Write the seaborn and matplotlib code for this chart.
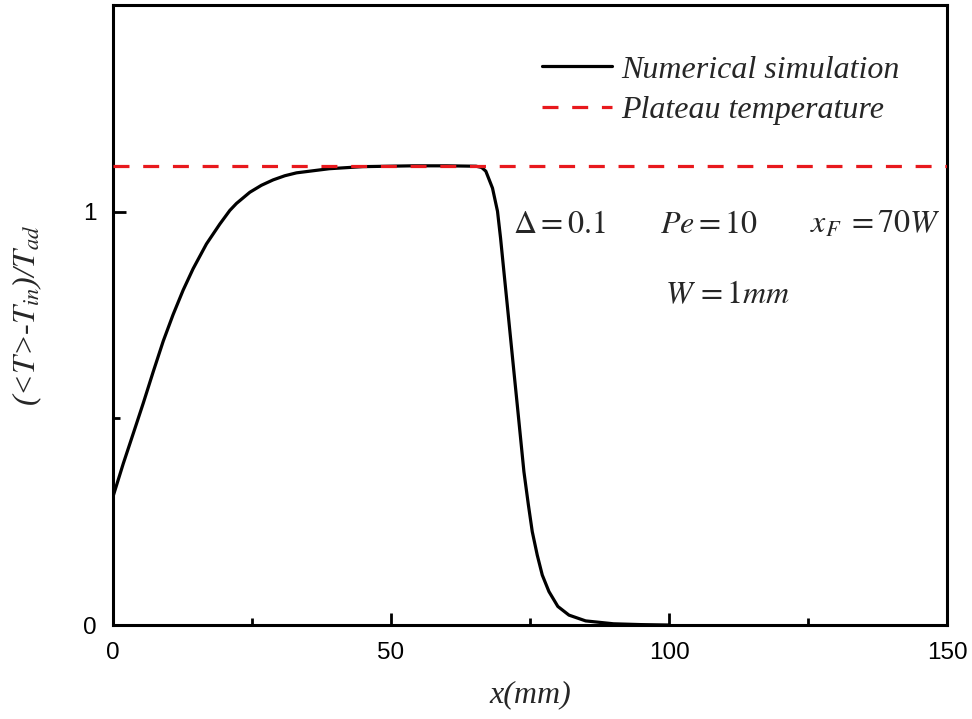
import matplotlib
matplotlib.use("Agg")
import matplotlib.pyplot as plt
import seaborn as sns
import pandas as pd

# ---- data ----
x_mm = [0, 1.85, 3.65, 5.44, 7.23, 9.03, 10.8, 12.6, 14.4, 16.8, 19.2,
        21.0, 22.2, 24.6, 26.7, 28.8, 30.9, 33.0, 38.9, 44.9, 53.9, 60.0,
        65.3, 66.3, 67.05, 68.25, 69.15, 69.7, 70.3, 70.9, 71.5, 72.1, 72.7,
        73.3, 73.9, 74.7, 75.4, 76.3, 77.2, 78.4, 80.0, 82.0, 85.0, 90.0,
        95.0, 100.0]
theta = [0.311, 0.391, 0.464, 0.537, 0.613, 0.687, 0.751, 0.810, 0.862,
         0.922, 0.970, 1.003, 1.020, 1.047, 1.064, 1.077, 1.087, 1.094, 1.104,
         1.109, 1.111, 1.111, 1.110, 1.107, 1.098, 1.057, 1.001, 0.936, 0.855,
         0.775, 0.694, 0.613, 0.533, 0.452, 0.371, 0.291, 0.226, 0.169, 0.121,
         0.081, 0.045, 0.024, 0.010, 0.003, 0.001, 0.0]
plateau = 1.111

x_ticks = [0, 50, 100, 150]
x_minor = [25, 75, 125]
y_ticks = [0, 1]
y_minor = [0.5]

legend_labels = ["Numerical simulation", "Plateau temperature"]

sns.set_style("ticks")
plt.rcParams["font.family"] = ["Liberation Sans", "DejaVu Sans"]
plt.rcParams["mathtext.fontset"] = "stix"

fig = plt.figure(figsize=(9.72, 7.19), dpi=100)
ax = fig.add_axes([0.1163, 0.1307, 0.858, 0.8623])

df = pd.DataFrame({"x": x_mm, "y": theta})
sns.lineplot(data=df, x="x", y="y", ax=ax, color="black", lw=2.3,
             label=legend_labels[0], zorder=2)
ax.axhline(plateau, color="#e8191d", lw=2.3, dashes=(5, 4.3),
           label=legend_labels[1], zorder=3)

ax.set_xlim(0, 150)
ax.set_ylim(0, 1.5)
ax.set_xticks(x_ticks)
ax.set_xticks(x_minor, minor=True)
ax.set_yticks(y_ticks)
ax.set_yticks(y_minor, minor=True)
ax.set_xticklabels([str(t) for t in x_ticks])
ax.set_yticklabels([str(t) for t in y_ticks])

for s in ax.spines.values():
    s.set_linewidth(2.2)
    s.set_color("black")
ax.tick_params(which="both", direction="in", top=False, right=False,
               width=2.0, colors="black", labelsize=17.5, pad=12)
ax.tick_params(which="major", length=9)
ax.tick_params(which="minor", length=5)

serif = ["Liberation Serif", "DejaVu Serif"]
ax.set_xlabel("x(mm)", family=serif, style="italic", fontsize=23, labelpad=12)
ax.set_ylabel(r"(<$T$>-$T_{in}$)/$T_{ad}$", family=serif, style="italic",
              fontsize=23, labelpad=28)

leg = ax.legend(loc="upper left", bbox_to_anchor=(0.514, 0.919), frameon=False,
                handlelength=2.2, handletextpad=0.28, borderpad=0,
                borderaxespad=0, labelspacing=0.35,
                prop={"family": serif, "style": "italic", "size": 23})

tkw = dict(transform=ax.transAxes, fontsize=23, va="baseline", ha="left")
ax.text(0.480, 0.632, r"$\Delta = 0.1$", **tkw)
ax.text(0.656, 0.632, r"$Pe = 10$", **tkw)
ax.text(0.836, 0.632, r"$x_{F}\; = 70W$", **tkw)
ax.text(0.662, 0.519, r"$W\, = 1mm$", **tkw)

fig.savefig("out.png", dpi=100)
